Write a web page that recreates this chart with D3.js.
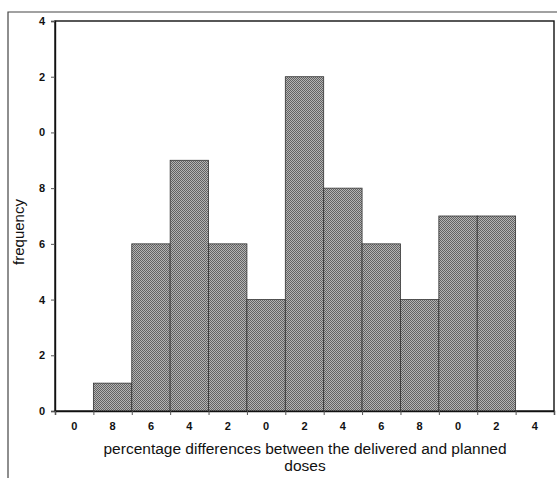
<!DOCTYPE html>
<html>
<head>
<meta charset="utf-8">
<script src="https://cdn.jsdelivr.net/npm/d3@7"></script>
<style>
  html, body { margin: 0; padding: 0; background: #fff; }
  svg { display: block; }
  text { font-family: "Liberation Sans", Arial, sans-serif; fill: #111; }
</style>
</head>
<body>
<svg id="chart" width="557" height="478"></svg>
<script>
// Data (tick labels shown truncated as in the scanned source)
const binLabels = ["0","8","6","4","2","0","2","4","6","8","0","2","4"];
const frequencies = [0, 1, 6, 9, 6, 4, 12, 8, 6, 4, 7, 7, 0];
const yTickValues = [0, 2, 4, 6, 8, 10, 12, 14];
const yTickLabels = ["0","2","4","6","8","0","2","4"];
const xTitleLines = ["percentage differences between the delivered and planned", "doses"];
const yTitle = "frequency";

const svg = d3.select("#chart");
const W = 557, H = 478;
const plot = { left: 55, right: 554, top: 21, bottom: 411 };

// checker/diagonal pattern imitating the scanned grey fill
const defs = svg.append("defs");
const pat = defs.append("pattern")
  .attr("id", "hatch").attr("patternUnits", "userSpaceOnUse")
  .attr("width", 2).attr("height", 2);
pat.append("rect").attr("width", 2).attr("height", 2).attr("fill", "#b4b4b4");
pat.append("rect").attr("x", 0).attr("y", 0).attr("width", 1).attr("height", 1).attr("fill", "#626262");
pat.append("rect").attr("x", 1).attr("y", 1).attr("width", 1).attr("height", 1).attr("fill", "#626262");

// outer frame (cropped at right/bottom)
svg.append("path")
  .attr("d", `M8,${H} L8,12 L${W},12`)
  .attr("fill", "none").attr("stroke", "#444").attr("stroke-width", 1.2);

const x = d3.scaleBand().domain(d3.range(binLabels.length))
  .range([plot.left, plot.right]).paddingInner(0).paddingOuter(0);
const y = d3.scaleLinear().domain([0, 14]).range([plot.bottom, plot.top]);

// plot box
svg.append("rect")
  .attr("x", plot.left).attr("y", plot.top)
  .attr("width", plot.right - plot.left).attr("height", plot.bottom - plot.top)
  .attr("fill", "#fff").attr("stroke", "#111").attr("stroke-width", 1.4);

// bars
svg.append("g").selectAll("rect")
  .data(frequencies.map((v, i) => ({ v, i })).filter(d => d.v > 0))
  .join("rect")
  .attr("x", d => x(d.i))
  .attr("y", d => y(d.v))
  .attr("width", x.bandwidth())
  .attr("height", d => y(0) - y(d.v))
  .attr("fill", "url(#hatch)")
  .attr("stroke", "#333").attr("stroke-width", 0.8);

// y axis
const yAxis = d3.axisLeft(y).tickValues(yTickValues)
  .tickFormat((d, i) => yTickLabels[i]).tickSize(4).tickPadding(6);
const gy = svg.append("g").attr("transform", `translate(${plot.left},0)`).call(yAxis);
gy.select(".domain").attr("stroke", "#111").attr("stroke-width", 1.4);
gy.selectAll(".tick line").attr("stroke", "#555");
gy.selectAll(".tick text").attr("font-size", 11).attr("font-weight", "bold")
  .style("font-family", "Liberation Sans, Arial, sans-serif").attr("fill", "#222");

// x axis: ticks at bin edges, labels at bin centres
const xEdge = d3.scaleLinear().domain([0, binLabels.length]).range([plot.left, plot.right]);
const gx = svg.append("g").attr("transform", `translate(0,${plot.bottom})`)
  .call(d3.axisBottom(xEdge).tickValues(d3.range(binLabels.length + 1)).tickFormat("").tickSize(4));
gx.select(".domain").attr("stroke", "#111").attr("stroke-width", 1.4);
gx.selectAll(".tick line").attr("stroke", "#555");

svg.append("g").selectAll("text")
  .data(binLabels)
  .join("text")
  .attr("x", (d, i) => x(i) + x.bandwidth() / 2)
  .attr("y", plot.bottom + 19)
  .attr("text-anchor", "middle")
  .attr("font-size", 11).attr("font-weight", "bold").attr("fill", "#222")
  .text(d => d);

// axis titles
svg.append("g").selectAll("text")
  .data(xTitleLines)
  .join("text")
  .attr("x", 305)
  .attr("y", (d, i) => 454 + i * 17)
  .attr("text-anchor", "middle")
  .attr("font-size", 15.5)
  .text(d => d);

svg.append("text")
  .attr("transform", `translate(24,232) rotate(-90)`)
  .attr("text-anchor", "middle")
  .attr("font-size", 15)
  .text(yTitle);
</script>
</body>
</html>
